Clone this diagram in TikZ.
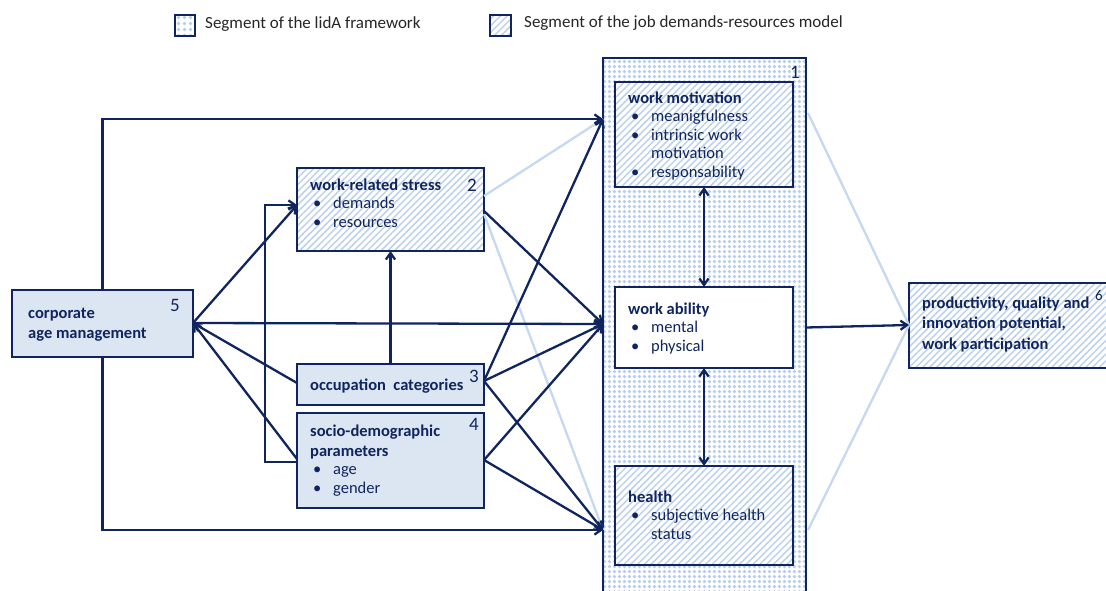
\documentclass[tikz,border=0pt]{standalone}
\usepackage{fontspec}
\setmainfont{Carlito}
\usetikzlibrary{arrows.meta,patterns.meta}
\definecolor{navy}{RGB}{16,37,94}
\definecolor{boxfill}{RGB}{220,230,242}
\definecolor{hatchc}{RGB}{190,209,236}
\definecolor{dotc}{RGB}{184,205,236}
\definecolor{lightln}{RGB}{198,217,241}
\definecolor{legtext}{RGB}{38,38,38}
\newcommand\blt{\hspace*{3pt}\makebox[20pt][l]{•}}
\newcommand\bltcont{\hspace*{23pt}}
\tikzset{
  box/.style={draw=navy, line width=2.8pt, rectangle, inner sep=0pt, outer sep=0pt},
  plainbox/.style={box, fill=boxfill},
  whitebox/.style={box, fill=white},
  hatchbox/.style={box, preaction={fill=white},
    pattern={Lines[angle=45,distance=4.8pt,line width=1.5pt]}, pattern color=hatchc},
  dotbox/.style={box, preaction={fill=white},
    pattern={Dots[radius=2pt,distance=5.4pt]}, pattern color=dotc},
  txt/.style={anchor=north west, align=left, inner sep=0pt, text=navy,
    font=\fontsize{16.5}{18.5}\selectfont},
  num/.style={inner sep=0pt, text=navy, font=\fontsize{19}{20}\selectfont},
  leg/.style={anchor=west, inner sep=0pt, text=legtext, font=\fontsize{17}{18}\selectfont},
  link/.style={draw=navy, line width=2.3pt, -{Straight Barb[angle=70:8pt,line width=2.3pt]}},
  bilink/.style={draw=navy, line width=2.3pt, {Straight Barb[angle=70:8pt,line width=2.3pt]}-{Straight Barb[angle=70:8pt,line width=2.3pt]}},
  faint/.style={draw=lightln, line width=2.3pt},
}
\begin{document}
\begin{tikzpicture}[x=1pt,y=-1pt]
\clip (0,0) rectangle (1106,591);
\fill[white] (0,0) rectangle (1106,591);

% legend
\node[dotbox, line width=2.2pt, minimum width=20pt, minimum height=21pt] (legA) at (185,25.5) {};
\node[leg] (legAt) at (205,24) {Segment of the lidA framework};
\node[hatchbox, line width=2.2pt, minimum width=21pt, minimum height=21pt] (legB) at (500.5,25.5) {};
\node[leg] (legBt) at (524,23) {Segment of the job demands-resources model};

% outcome column
\node[dotbox, minimum width=203pt, minimum height=542pt] (col) at (704.5,329) {};
\node[num] (n1) at (795,72) {1};

\node[hatchbox, minimum width=178pt, minimum height=105pt] (wm) at (704,134.5) {};
\node[whitebox, minimum width=178pt, minimum height=81pt] (wa) at (704,327.5) {};
\node[hatchbox, minimum width=178pt, minimum height=99pt] (hl) at (704,515.5) {};

\node[txt] (wmt) at (628,91.5) {\textbf{work motivation}\\\blt meanigfulness\\\blt intrinsic work\\\bltcont motivation\\\blt responsability};
\node[txt] (wat) at (628,302.5) {\textbf{work ability}\\\blt mental\\\blt physical};
\node[txt] (hlt) at (628,490.5) {\textbf{health}\\\blt subjective health\\\bltcont status};

% result box
\node[hatchbox, minimum width=206pt, minimum height=85pt] (b6) at (1012,325.5) {};
\node[txt, font=\fontsize{16.5}{20.5}\selectfont] (b6t) at (922,296.5) {\textbf{productivity, quality and}\\\textbf{innovation potential,}\\\textbf{work participation}};
\node[num, font=\fontsize{15}{16}\selectfont] (n6) at (1099,295) {6};

% influencing factors
\node[plainbox, minimum width=181pt, minimum height=67pt] (b5) at (102.5,323.5) {};
\node[txt, font=\fontsize{16.5}{20}\selectfont] (b5t) at (28,307.5) {\textbf{corporate}\\\textbf{age management}};
\node[num] (n5) at (175,305) {5};

\node[hatchbox, minimum width=187pt, minimum height=83pt] (b2) at (390.5,209.5) {};
\node[txt] (b2t) at (310,178.5) {\textbf{work-related stress}\\\blt demands\\\blt resources};
\node[num] (n2) at (472,185) {2};

\node[plainbox, minimum width=187pt, minimum height=41pt] (b3) at (390.5,384.5) {};
\node[txt] (b3t) at (310,378.5) {\textbf{occupation\ \ categories}};
\node[num] (n3) at (474,376) {3};

\node[plainbox, minimum width=187pt, minimum height=95pt] (b4) at (390.5,460.5) {};
\node[txt] (b4t) at (310,424.5) {\textbf{socio-demographic}\\[1.5pt]\textbf{parameters}\\\blt age\\\blt gender};
\node[num] (n4) at (474,424) {4};

% connection points on the column and boxes
\coordinate (cTop) at (603,119);
\coordinate (cMid) at (603,324);
\coordinate (cBot) at (603,530);
\coordinate (b2in) at (297,205);
\coordinate (b2outA) at (484,196);
\coordinate (b2outB) at (484,211);
\coordinate (b2outC) at (484,214);
\coordinate (b3out) at (484,381);
\coordinate (b3in) at (297,383);
\coordinate (b4out) at (484,460);
\coordinate (b4in) at (297,459);
\coordinate (b4side) at (297,462);
\coordinate (b5out) at (193,323);
\coordinate (colR1) at (808,113);
\coordinate (colR2) at (808,530);
\coordinate (b6in) at (909,325);

% faint links
\draw[faint] (b2outA) -- (cTop);
\draw[faint] (b2outC) -- (cBot);
\draw[faint] (colR1) -- (b6in);
\draw[faint] (colR2) -- (b6in);

% dark links
\draw[link] (b5.north) |- (cTop);
\draw[link] (b5.south) |- (cBot);
\draw[link] (b5out) -- (cMid);
\draw[link] (b5out) -- (b2in);
\draw[link] (b3in) -- (b5out);
\draw[link] (b4in) -- (b5out);
\draw[link] (b4side) -| (265,205) -- (b2in);
\draw[link] (b3.north) -- (b2.south);
\draw[link] (b2outB) -- (cMid);
\draw[link] (b3out) -- (cTop);
\draw[link] (b3out) -- (cMid);
\draw[link] (b3out) -- (cBot);
\draw[link] (b4out) -- (cMid);
\draw[link] (b4out) -- (cBot);
\draw[bilink] (wm.south) -- (wa.north);
\draw[bilink] (wa.south) -- (hl.north);
\draw[link] (col.east |- wa.east) -- (b6in);
\end{tikzpicture}
\end{document}
